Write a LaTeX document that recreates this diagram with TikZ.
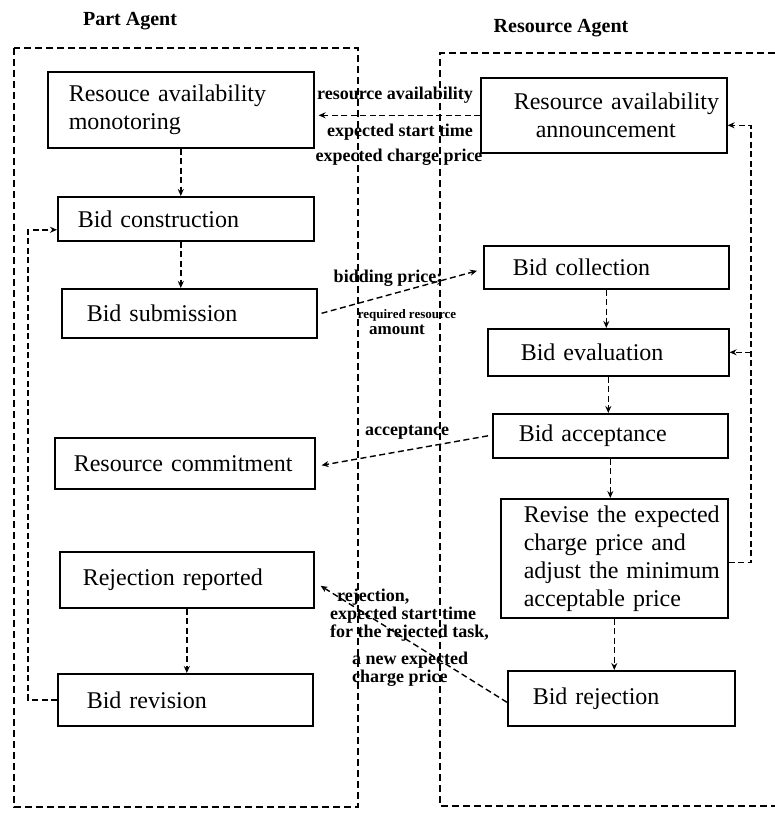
\documentclass[tikz,border=0pt]{standalone}
\usepackage{fontspec}
\setmainfont{Liberation Serif}
\usetikzlibrary{arrows.meta,calc}
\newcommand\padL[1]{\hspace*{#1pt}}
\begin{document}
\begin{tikzpicture}[x=1pt,y=-1pt,
  box/.style={draw,line width=1.6pt,anchor=north west,inner xsep=0pt,inner ysep=0pt,align=left,font=\fontsize{24}{28}\selectfont},
  agent/.style={draw,line width=1.5pt,dash pattern=on 7pt off 4pt},
  conn/.style={line width=1.4pt,dash pattern=on 6pt off 3.5pt},
  arr/.style={conn,-{Stealth[length=7pt,width=6pt]}},
  lbl/.style={font=\fontsize{18}{18}\selectfont\bfseries,inner sep=0pt},
  title/.style={font=\fontsize{20}{24}\selectfont\bfseries,inner sep=0pt}]
\useasboundingbox (0,0) rectangle (775,818);

% titles
\node[title] (tpart) at (130,21) {Part Agent};
\node[title] (tres) at (561,28) {Resource Agent};

% agent frames
\draw[agent] (14,48) rectangle (358,807);
\draw[agent] (775,53) -- (440,53) -- (440,806) -- (775,806);

% part agent boxes
\node[box,text width=266pt,minimum height=76pt] (mon) at (47,71) {\padL{21}Resouce availability\\\padL{21}monotoring};
\node[box,text width=256pt,minimum height=44pt] (constr) at (57,196) {\padL{20}Bid construction};
\node[box,text width=255pt,minimum height=49pt] (sub) at (61,288) {\padL{25}Bid submission};
\node[box,text width=260pt,minimum height=51pt] (commit) at (54,437) {\padL{19}Resource commitment};
\node[box,text width=254pt,minimum height=56pt] (rejrep) at (59,551) {\padL{23}Rejection reported};
\node[box,text width=255pt,minimum height=52pt] (rev) at (57,673) {\padL{29}Bid revision};

% resource agent boxes
\node[box,text width=246pt,minimum height=75pt] (ann) at (480,77) {\padL{33}Resource availability\\\padL{55}announcement};
\node[box,text width=245pt,minimum height=43pt] (coll) at (483,245) {\padL{29}Bid collection};
\node[box,text width=241pt,minimum height=47pt] (eval) at (487,328) {\padL{33}Bid evaluation};
\node[box,text width=235pt,minimum height=44pt] (acc) at (492,413) {\padL{26}Bid acceptance};
\node[box,text width=227pt,minimum height=119pt] (revise) at (500,498) {\padL{23}Revise the expected\\\padL{23}charge price and\\\padL{23}adjust the minimum\\\padL{23}acceptable price};
\node[box,text width=227pt,minimum height=55pt] (bidrej) at (507,670) {\padL{25}Bid rejection};

% helper coordinates
\coordinate (loopR) at (751,0);
\coordinate (loopL) at (28,0);
\coordinate (rvE) at ([yshift=-4pt]revise.east);
\coordinate (anE) at ([yshift=-10pt]ann.east);
\coordinate (cnW) at ([yshift=-11pt]constr.west);
\coordinate (monE) at ([xshift=4pt]mon.east);
\coordinate (subE) at ([xshift=4pt]sub.east);
\coordinate (collW) at ([xshift=-6pt,yshift=-3.5pt]coll.west);
\coordinate (accW) at ([xshift=-4pt]acc.west);
\coordinate (comE) at ([xshift=6pt,yshift=-2pt]commit.east);
\coordinate (brW) at ([yshift=-4pt]bidrej.west);
\coordinate (rrE) at ([xshift=6pt,yshift=-6pt]rejrep.east);

% vertical flows
\draw[arr] (mon.south) -- (mon.south |- constr.north);
\draw[arr] (constr.south -| mon.south) -- (sub.north -| mon.south);
\draw[arr] (rejrep.south) -- (rejrep.south |- rev.north);
\draw[arr] (coll.south) -- (coll.south |- eval.north);
\draw[arr] (eval.south) -- (eval.south |- acc.north);
\draw[arr] (acc.south) -- (acc.south |- revise.north);
\draw[arr] (revise.south) -- (revise.south |- bidrej.north);

% feedback loops
\draw[arr] (rvE) -- (rvE -| loopR) -- (anE -| loopR) -- (anE);
\draw[arr] (eval.east -| loopR) -- (eval.east);
\draw[arr] (rev.west) -- (rev.west -| loopL) -- (cnW -| loopL) -- (cnW);

% messages
\draw[arr] (ann.west) -- (ann.west -| monE);
\node[lbl] (l1) at (395,95) {resource availability};
\node[lbl] (l2) at (400,132) {expected start time};
\node[lbl] (l3) at (399,157) {expected charge price};

\draw[arr] (subE) -- (collW);
\node[lbl] (l4) at (388,278) {bidding price;};
\node[lbl,font=\fontsize{13}{13}\selectfont\bfseries] (l5) at (407,315) {required resource};
\node[lbl,font=\fontsize{17}{17}\selectfont\bfseries] (l6) at (397,330) {amount};

\draw[arr] (accW) -- (comE);
\node[lbl] (l7) at (407,432) {acceptance};

\draw[arr] (brW) -- (rrE);
\node[lbl,align=left,anchor=west] (l8) at (330,615) {\padL{7}rejection,\\expected start time\\for the rejected task,};
\node[lbl,align=left,anchor=west] (l9) at (352,669) {a new expected\\charge price};
\end{tikzpicture}
\end{document}
